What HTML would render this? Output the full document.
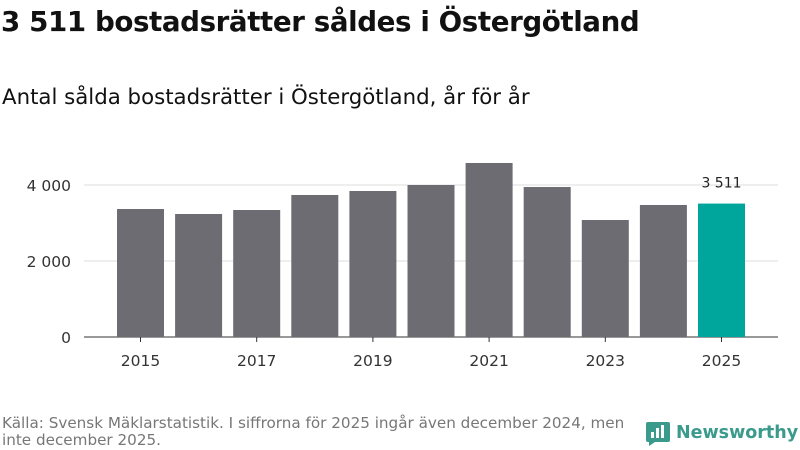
<!DOCTYPE html>
<html><head><meta charset="utf-8">
<style>
body{margin:0;width:800px;height:450px;background:#fff;font-family:"DejaVu Sans","Liberation Sans",sans-serif;position:relative;overflow:hidden;color:#111}
#title{position:absolute;left:1px;top:5px;font-size:27.7px;font-weight:bold;letter-spacing:-0.4px}
#subtitle{position:absolute;left:2px;top:85px;font-size:21.3px}
#footer{position:absolute;left:2px;top:415px;font-size:15.2px;color:#777;line-height:17px;width:636px}
#logo{position:absolute;left:645px;top:420px;display:flex;align-items:center;gap:5px;color:#3a9a8c;font-weight:bold;font-size:17.5px}
svg{position:absolute;left:0;top:0}
</style></head><body>
<div id="title">3 511 bostadsrätter såldes i Östergötland</div>
<div id="subtitle">Antal sålda bostadsrätter i Östergötland, år för år</div>
<svg id="chart" width="800" height="450"></svg>
<div id="footer">Källa: Svensk Mäklarstatistik. I siffrorna för 2025 ingår även december 2024, men inte december 2025.</div>
<div id="logo"><svg width="26" height="26" style="position:static" viewBox="0 0 26 26"><path d="M3 2h20a2 2 0 0 1 2 2v16a2 2 0 0 1-2 2H10l-6 4v-4H3a2 2 0 0 1-2-2V4a2 2 0 0 1 2-2z" fill="#3a9a8c"/><rect x="6" y="12" width="3" height="6" fill="#fff"/><rect x="11" y="8" width="3" height="10" fill="#fff"/><rect x="16" y="5" width="3" height="13" fill="#fff"/></svg><span>Newsworthy</span></div>
<script>
const years=[2015,2016,2017,2018,2019,2020,2021,2022,2023,2024,2025];
const values=[3368,3237,3342,3737,3842,4000,4579,3947,3079,3474,3511];
const yTicks=[0,2000,4000];
const yTickLabels=["0","2 000","4 000"];
const highlightLabel="3 511";
const svg=document.getElementById('chart');
const NS='http://www.w3.org/2000/svg';
const y0=337,pxPer=76/2000;
const y=v=>y0-v*pxPer;
const x=i=>117+i*58.1;
const bw=47;
function mk(t,a){const e=document.createElementNS(NS,t);for(const k in a)e.setAttribute(k,a[k]);svg.appendChild(e);return e;}
yTicks.forEach((t,i)=>{
 const l=mk('line',{x1:84,x2:778,y1:y(t),y2:y(t),stroke:t===0?'#333':'#ddd','stroke-width':1});
 
 
 const tx=mk('text',{x:71,y:y(t)+6,'text-anchor':'end','font-size':15.5,fill:'#333'});
 tx.textContent=yTickLabels[i];
 
 
});
years.forEach((yr,i)=>{
 const last=i===years.length-1;
 const r=mk('rect',{x:x(i),y:y(values[i]),width:bw,height:values[i]*pxPer,fill:last?'#00a59b':'#6d6c72'});
 
 
 if(i%2===0){
  const tk=mk('line',{x1:x(i)+bw/2,x2:x(i)+bw/2,y1:y0,y2:y0+5,stroke:'#333'});
  
  
  const tx=mk('text',{x:x(i)+bw/2,y:y0+29,'text-anchor':'middle','font-size':15.5,fill:'#333'});
  tx.textContent=yr;
  
  
 }
 if(last){
  const v=mk('text',{x:x(i)+bw/2,y:y(values[i])-16,'text-anchor':'middle','font-size':14,fill:'#222'});
  v.textContent=highlightLabel;
  
  
 }
});
</script>
</body></html>
